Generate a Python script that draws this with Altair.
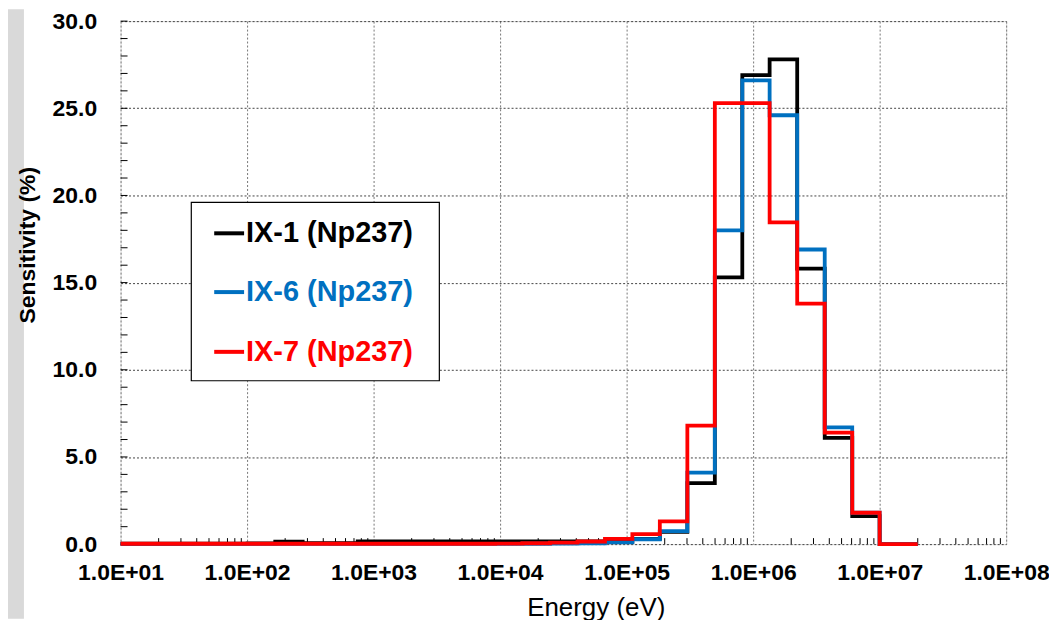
import altair as alt
import pandas as pd

# Lower edges of the energy groups (eV), ascending, plus the top edge
energy_edges = [10, 13.7, 22.6, 37.3, 61.4, 101, 167, 275, 454, 749,
                1230, 2030, 3350, 5530, 9120, 15000, 24800, 40900, 67400, 111000,
                183000, 302000, 498000, 821000, 1350000, 2230000, 3680000, 6070000,
                10000000, 20000000]

series_names = ["IX-1 (Np237)", "IX-6 (Np237)", "IX-7 (Np237)"]
series_colors = ["#000000", "#0070C0", "#FF0000"]

# Sensitivity (%) per group (value of each step, from edge i to edge i+1), last point closes the step at 0
ix1_values = [0.02, 0.02, 0.02, 0.03, 0.03, 0.04, 0.14, 0.06, 0.05, 0.15,
              0.15, 0.15, 0.15, 0.15, 0.15, 0.15, 0.15, 0.15, 0.15, 0.3,
              0.7, 3.5, 15.3, 26.9, 27.8, 15.8, 6.1, 1.6, 0.0, 0.0]
ix6_values = [0.01, 0.01, 0.01, 0.01, 0.01, 0.01, 0.01, 0.01, 0.01, 0.01,
              0.01, 0.01, 0.01, 0.01, 0.01, 0.02, 0.03, 0.05, 0.1, 0.28,
              0.75, 4.1, 18.0, 26.6, 24.6, 16.9, 6.7, 1.8, 0.0, 0.0]
ix7_values = [0.02, 0.02, 0.02, 0.02, 0.02, 0.02, 0.02, 0.02, 0.02, 0.02,
              0.02, 0.02, 0.02, 0.02, 0.03, 0.05, 0.08, 0.15, 0.3, 0.57,
              1.3, 6.8, 25.3, 25.3, 18.45, 13.8, 6.4, 1.8, 0.0, 0.0]

x_tick_values = [1e1, 1e2, 1e3, 1e4, 1e5, 1e6, 1e7, 1e8]
y_tick_values = [0, 5, 10, 15, 20, 25, 30]
x_minor_ticks = [m * d for d in [1e1, 1e2, 1e3, 1e4, 1e5, 1e6, 1e7] for m in range(2, 10)]
y_minor_ticks = list(range(0, 31))

y_title = "Sensitivity (%)"
x_title = "Energy (eV)"

W, H = 889, 525
FONT = "Liberation Sans"

x_scale = alt.Scale(type="log", domain=[10, 1e8], nice=False)
y_scale = alt.Scale(domain=[0, 30], nice=False, zero=True)

x_axis = alt.Axis(
    values=x_tick_values,
    labelExpr="'1.0E+' + (datum.value < 1e10 ? '0' : '') + round(log(datum.value) / LN10)",
    labelFont=FONT, labelFontSize=23, labelFontWeight="bold", labelColor="#000",
    labelPadding=18, labelFlush=False, labelOverlap=False,
    ticks=False, domain=False,
    grid=True, gridColor="#777", gridDash=[2, 2], gridWidth=1,
    title=x_title, titleFont=FONT, titleFontSize=26, titleFontWeight="normal",
    titleColor="#000", titleX=477, titleY=72, titleBaseline="alphabetic", titleAlign="center",
)
y_axis = alt.Axis(
    values=y_tick_values, format=".1f",
    labelFont=FONT, labelFontSize=23, labelFontWeight="bold", labelColor="#000",
    labelPadding=24, labelBaseline="middle",
    ticks=False, domain=False,
    grid=True, gridColor="#444", gridDash=[2, 2], gridWidth=1,
    title=None,
)

rows = []
for name, vals in zip(series_names, [ix1_values, ix6_values, ix7_values]):
    for e, v in zip(energy_edges, vals):
        rows.append({"series": name, "energy": e, "value": v})
df = pd.DataFrame(rows)

layers = []

# grey strip on the left
layers.append(
    alt.Chart(pd.DataFrame({"k": [0]})).mark_rect(fill="#d9d9d9").encode(
        x=alt.value(-113), x2=alt.value(-97), y=alt.value(-12), y2=alt.value(600)
    )
)

# y axis title as text (drawn over the grey strip)
layers.append(
    alt.Chart(pd.DataFrame({"label": [y_title]})).mark_text(
        angle=270, align="center", baseline="middle", font=FONT, fontSize=23,
        fontWeight="bold", color="#000"
    ).encode(x=alt.value(-93), y=alt.value(225), text="label:N")
)

# minor ticks
layers.append(
    alt.Chart(pd.DataFrame({"energy": x_minor_ticks})).mark_rule(color="#000", strokeWidth=1).encode(
        x=alt.X("energy:Q", scale=x_scale, axis=x_axis), y=alt.value(H), y2=alt.value(H - 6)
    )
)
layers.append(
    alt.Chart(pd.DataFrame({"value": y_minor_ticks})).mark_rule(color="#000", strokeWidth=1).encode(
        y=alt.Y("value:Q", scale=y_scale, axis=y_axis), x=alt.value(0), x2=alt.value(7)
    )
)

for name, col in zip(series_names, series_colors):
    layers.append(
        alt.Chart(df[df["series"] == name]).mark_line(
            interpolate="step-after", color=col, strokeWidth=3.8, strokeCap="butt", strokeJoin="miter"
        ).encode(
            x=alt.X("energy:Q", scale=x_scale, axis=x_axis),
            y=alt.Y("value:Q", scale=y_scale, axis=y_axis),
        )
    )

# legend box
layers.append(
    alt.Chart(pd.DataFrame({"k": [0]})).mark_rect(fill="white", stroke="#000", strokeWidth=1.2).encode(
        x=alt.value(71), x2=alt.value(320), y=alt.value(182), y2=alt.value(361)
    )
)
legend_y = [213, 272, 332]
for name, col, yy in zip(series_names, series_colors, legend_y):
    layers.append(
        alt.Chart(pd.DataFrame({"k": [0]})).mark_rule(color=col, strokeWidth=4).encode(
            x=alt.value(94), x2=alt.value(124), y=alt.value(yy)
        )
    )
    layers.append(
        alt.Chart(pd.DataFrame({"label": [name]})).mark_text(
            align="left", baseline="middle", font=FONT, fontSize=29, fontWeight="bold", color=col
        ).encode(x=alt.value(126), y=alt.value(yy), text="label:N")
    )

chart = alt.layer(*layers).properties(
    width=W, height=H,
    autosize=alt.AutoSizeParams(type="none"),
    padding={"left": 113, "top": 12, "right": 43, "bottom": 75},
).configure_view(stroke="#000", strokeWidth=1.3).configure(background="white")

chart.save("out.html", embed_options={"renderer": "svg", "actions": False})
